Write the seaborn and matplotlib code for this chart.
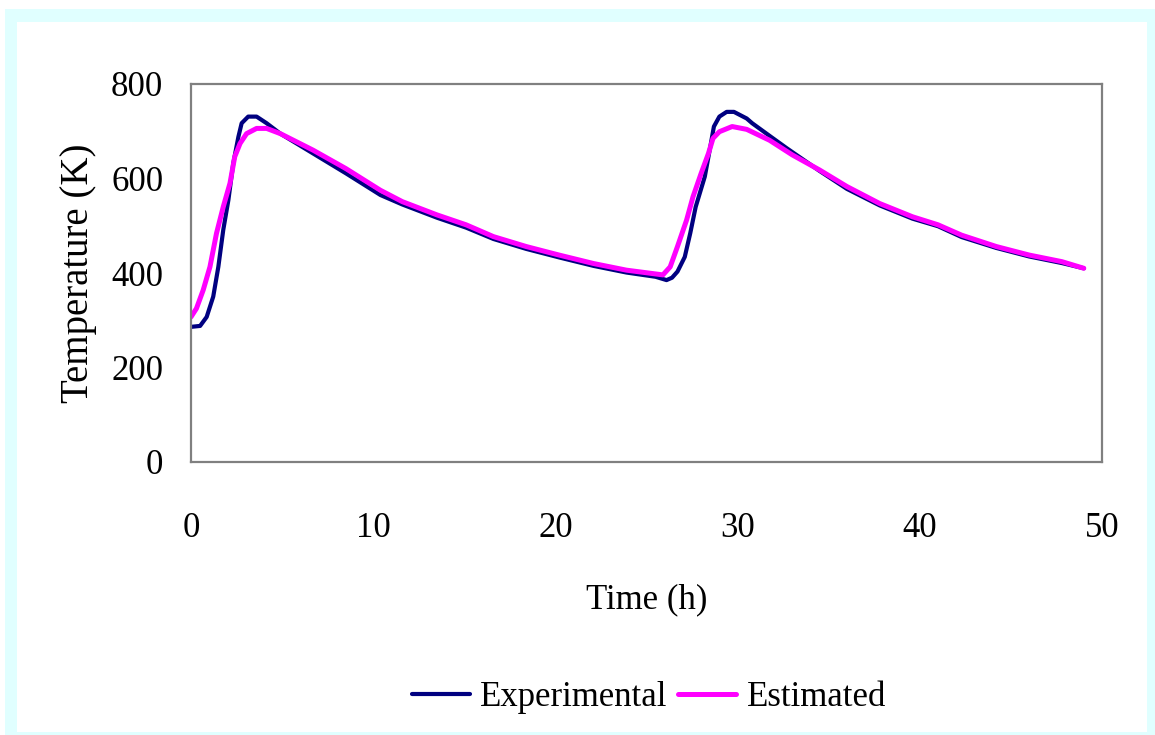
import matplotlib
matplotlib.use("Agg")
import matplotlib.pyplot as plt
from matplotlib.patches import Rectangle
import pandas as pd
import seaborn as sns

# Measured furnace temperature over two heating cycles
exp_time = [0.0, 0.5, 0.86, 1.22, 1.5, 1.77, 2.05, 2.32, 2.6, 2.78, 3.14, 3.6, 4.15,
            4.9, 6.7, 8.5, 10.4, 11.6, 13.5, 15.1, 16.6, 18.4, 20.2, 22.1, 23.9,
            25.5, 26.1, 26.4, 26.7, 27.1, 27.4, 27.7, 28.2, 28.5, 28.7, 29.0, 29.4,
            29.8, 30.5, 30.8, 31.8, 32.7, 34.5, 36.0, 37.8, 39.6, 41.0, 42.3, 44.2,
            46.0, 47.8, 49.0]
exp_temp = [286, 288, 307, 350, 413, 491, 554, 632, 688, 717, 731, 731, 717,
            695, 653, 611, 565, 545, 517, 496, 472, 451, 433, 415, 401,
            392, 385, 390, 403, 434, 484, 540, 604, 667, 710, 731, 741,
            741, 727, 717, 689, 664, 616, 578, 543, 515, 499, 476, 453,
            435, 421, 410]

# Model estimate for the same run
est_time = [0.0, 0.3, 0.67, 1.04, 1.4, 1.77, 2.14, 2.4, 2.69, 3.05, 3.6, 4.15,
            4.9, 6.7, 8.5, 10.4, 11.6, 13.5, 15.1, 16.6, 18.4, 20.2, 22.1, 23.9,
            25.9, 26.3, 26.7, 27.2, 27.55, 28.0, 28.4, 28.65, 29.0, 29.7, 30.5,
            31.75, 33.0, 34.5, 36.0, 37.8, 39.6, 41.0, 42.3, 44.2, 46.0, 47.8, 49.0]
est_temp = [307, 325, 364, 413, 484, 540, 590, 646, 674, 695, 706, 706,
            695, 660, 621, 575, 551, 523, 502, 477, 456, 438, 420, 406,
            396, 413, 456, 512, 561, 611, 653, 685, 699, 710, 704,
            681, 650, 618, 583, 547, 519, 502, 480, 456, 438, 424, 410]

series_names = ["Experimental", "Estimated"]
series_colors = ["#000080", "#FF00FF"]
x_ticks = [0, 10, 20, 30, 40, 50]
y_ticks = [0, 200, 400, 600, 800]

sns.set_theme(style="white")
plt.rcParams["font.family"] = ["Liberation Serif", "DejaVu Serif"]
plt.rcParams["text.color"] = "black"

fig = plt.figure(figsize=(11.55, 7.35), dpi=100, facecolor="white")

# light cyan frame around the chart area
fig.patches.append(Rectangle((5 / 1155, 0), 1 - 5 / 1155, 1 - 9 / 735,
                             transform=fig.transFigure, facecolor="#E0FFFF",
                             edgecolor="none", zorder=-2))
fig.patches.append(Rectangle((17 / 1155, 3 / 735), 1130 / 1155, 710 / 735,
                             transform=fig.transFigure, facecolor="white",
                             edgecolor="none", zorder=-1))

ax = fig.add_axes([191 / 1155, 1 - 462 / 735, 911 / 1155, 378 / 735])
ax.set_facecolor("white")

df_exp = pd.DataFrame({"time": exp_time, "temp": exp_temp})
df_est = pd.DataFrame({"time": est_time, "temp": est_temp})

sns.lineplot(data=df_exp, x="time", y="temp", ax=ax, color=series_colors[0],
             linewidth=3.0, label=series_names[0], legend=False)
sns.lineplot(data=df_est, x="time", y="temp", ax=ax, color=series_colors[1],
             linewidth=3.6, label=series_names[1], legend=False)

ax.set_xlim(0, 50)
ax.set_ylim(0, 800)
ax.set_xticks(x_ticks)
ax.set_yticks(y_ticks)
ax.set_xticklabels([str(v) for v in x_ticks])
ax.set_yticklabels([str(v) for v in y_ticks])
ax.tick_params(axis="both", length=0, labelsize=25, colors="black")
ax.tick_params(axis="x", pad=36)
ax.tick_params(axis="y", pad=20)
ax.grid(False)

for side in ["left", "right", "top", "bottom"]:
    ax.spines[side].set_visible(True)
    ax.spines[side].set_color("#808080")
    ax.spines[side].set_linewidth(1.6)

ax.set_xlabel("Time (h)", fontsize=25, color="black")
ax.set_ylabel("Temperature (K)", fontsize=28, color="black")
ax.xaxis.set_label_coords(0.5, -0.322)
ax.yaxis.set_label_coords(-0.103, 0.5)

handles, labels = ax.get_legend_handles_labels()
fig.legend(handles, labels, loc="center", ncol=2, frameon=False,
           bbox_to_anchor=(649 / 1155, 1 - 698 / 735), fontsize=25,
           labelcolor="black",
           handlelength=1.67, handletextpad=0.3, columnspacing=0.3)

fig.savefig("out.png", dpi=100, facecolor="white")
